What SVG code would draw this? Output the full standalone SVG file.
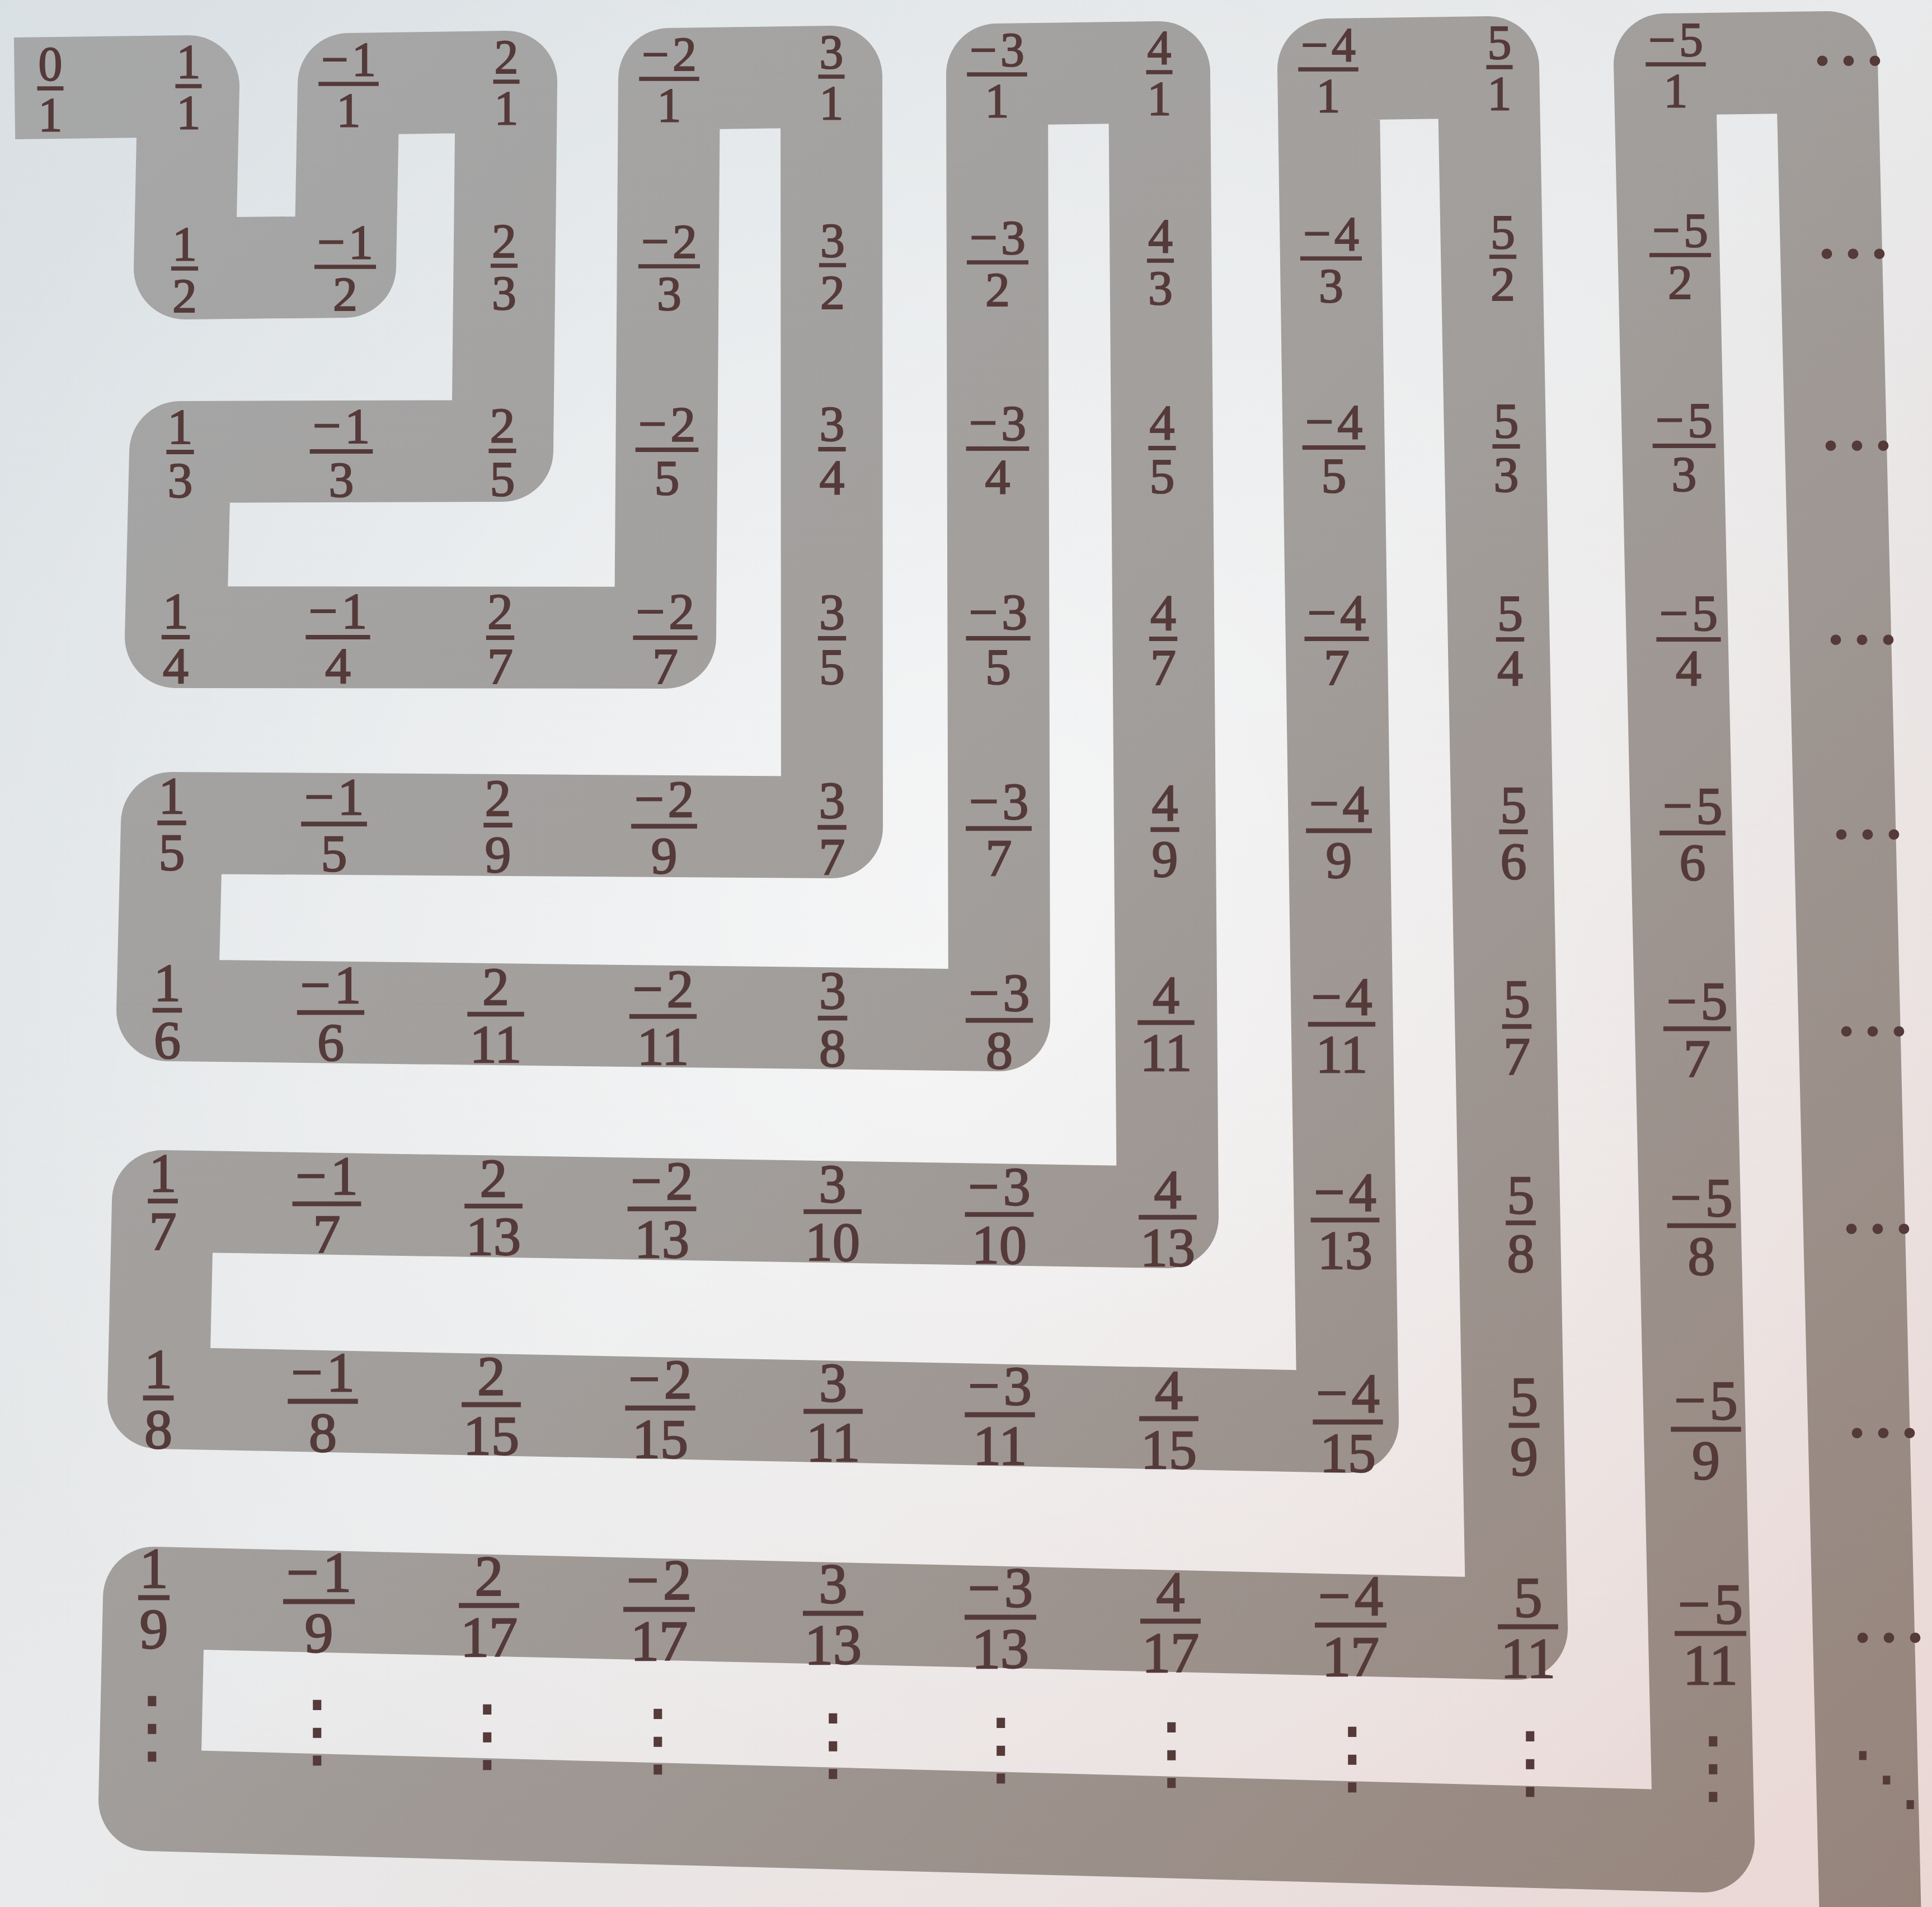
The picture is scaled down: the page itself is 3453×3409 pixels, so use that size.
<svg xmlns="http://www.w3.org/2000/svg" width="3453" height="3409" viewBox="0 0 3453 3409">
<defs>
<linearGradient id="bg" gradientUnits="userSpaceOnUse" x1="0" y1="0" x2="3453" y2="3409">
<stop offset="0" stop-color="#d9e0e4"/><stop offset="0.5" stop-color="#e9eaeb"/><stop offset="1" stop-color="#ead7d4"/>
</linearGradient>
<radialGradient id="glow" gradientUnits="userSpaceOnUse" cx="1700" cy="1600" r="2000">
<stop offset="0" stop-color="#ffffff" stop-opacity="0.55"/><stop offset="1" stop-color="#ffffff" stop-opacity="0"/>
</radialGradient>
<linearGradient id="bandGrad" gradientUnits="userSpaceOnUse" x1="0" y1="0" x2="3453" y2="3409">
<stop offset="0" stop-color="#a7a8a9"/><stop offset="0.5" stop-color="#a19d9a"/><stop offset="1" stop-color="#96847b"/>
</linearGradient>
</defs>
<style>
.band{fill:none;stroke:url(#bandGrad);stroke-width:182;stroke-linejoin:round;stroke-linecap:butt}
.fr text{font-family:"Liberation Serif","Times New Roman",serif;font-size:102px;fill:#553a3a;stroke:#553a3a;stroke-width:2.5;text-anchor:middle}
.fr line{stroke:#553a3a;stroke-width:9}
.dh{font-family:"Noto Sans CJK JP","DejaVu Sans",sans-serif;font-size:141px;fill:#553a3a;text-anchor:middle}
.dv{font-family:"Noto Sans CJK JP","DejaVu Sans",sans-serif;font-size:146px;fill:#553a3a;text-anchor:middle}
.dd{font-family:"Noto Sans CJK JP","DejaVu Sans",sans-serif;font-size:128px;fill:#553a3a;text-anchor:middle}
</style>
<rect width="3453" height="3409" fill="url(#bg)"/>
<rect width="3453" height="3409" fill="url(#glow)"/>
<g id="connectors">
<path class="band" d="M26,158 L337,154 L330,480 L617,477 L623,150 L905,146 L898,806 L322,808 L314,1139 L1189,1140 L1196,141 L1486,137 L1487,1479 L307,1471 L299,1806 L1786,1824 L1782,133 L2072,129 L2087,2176 L291,2147 L283,2499 L2409,2542 L2374,124 L2660,120 L2711,2912 L275,2856 L267,3218 L3045,3292 L2975,115 L3265,111 L3345,3520"/>
</g>
<!-- row 0 -->
<g id="f0-0" class="fr" transform="translate(90,158) scale(.84)"><text y="-18">0</text><line x1="-28" x2="28"/><text y="91">1</text></g>
<g id="f0-1" class="fr" transform="translate(337,154) scale(.84)"><text y="-18">1</text><line x1="-28" x2="28"/><text y="91">1</text></g>
<g id="f0-2" class="fr" transform="translate(623,150) scale(.84)"><text y="-18" textLength="116" lengthAdjust="spacing">−1</text><line x1="-64" x2="64"/><text y="91">1</text></g>
<g id="f0-3" class="fr" transform="translate(905,146) scale(.84)"><text y="-18">2</text><line x1="-28" x2="28"/><text y="91">1</text></g>
<g id="f0-4" class="fr" transform="translate(1196,141) scale(.84)"><text y="-18" textLength="116" lengthAdjust="spacing">−2</text><line x1="-64" x2="64"/><text y="91">1</text></g>
<g id="f0-5" class="fr" transform="translate(1486,137) scale(.84)"><text y="-18">3</text><line x1="-28" x2="28"/><text y="91">1</text></g>
<g id="f0-6" class="fr" transform="translate(1782,133) scale(.84)"><text y="-18" textLength="116" lengthAdjust="spacing">−3</text><line x1="-64" x2="64"/><text y="91">1</text></g>
<g id="f0-7" class="fr" transform="translate(2072,129) scale(.84)"><text y="-18">4</text><line x1="-28" x2="28"/><text y="91">1</text></g>
<g id="f0-8" class="fr" transform="translate(2374,124) scale(.84)"><text y="-18" textLength="116" lengthAdjust="spacing">−4</text><line x1="-64" x2="64"/><text y="91">1</text></g>
<g id="f0-9" class="fr" transform="translate(2680,120) scale(.84)"><text y="-18">5</text><line x1="-28" x2="28"/><text y="91">1</text></g>
<g id="f0-10" class="fr" transform="translate(2995,115) scale(.84)"><text y="-18" textLength="116" lengthAdjust="spacing">−5</text><line x1="-64" x2="64"/><text y="91">1</text></g>
<g id="h0"><text class="dh" x="3304" y="162">⋯</text></g>
<!-- row 1 -->
<g id="f1-1" class="fr" transform="translate(330,480) scale(.86)"><text y="-18">1</text><line x1="-28" x2="28"/><text y="91">2</text></g>
<g id="f1-2" class="fr" transform="translate(617,477) scale(.86)"><text y="-18" textLength="116" lengthAdjust="spacing">−1</text><line x1="-64" x2="64"/><text y="91">2</text></g>
<g id="f1-3" class="fr" transform="translate(901,475) scale(.86)"><text y="-18">2</text><line x1="-28" x2="28"/><text y="91">3</text></g>
<g id="f1-4" class="fr" transform="translate(1196,476) scale(.86)"><text y="-18" textLength="116" lengthAdjust="spacing">−2</text><line x1="-64" x2="64"/><text y="91">3</text></g>
<g id="f1-5" class="fr" transform="translate(1488,474) scale(.86)"><text y="-18">3</text><line x1="-28" x2="28"/><text y="91">2</text></g>
<g id="f1-6" class="fr" transform="translate(1783,469) scale(.86)"><text y="-18" textLength="116" lengthAdjust="spacing">−3</text><line x1="-64" x2="64"/><text y="91">2</text></g>
<g id="f1-7" class="fr" transform="translate(2074,466) scale(.86)"><text y="-18">4</text><line x1="-28" x2="28"/><text y="91">3</text></g>
<g id="f1-8" class="fr" transform="translate(2379,462) scale(.86)"><text y="-18" textLength="116" lengthAdjust="spacing">−4</text><line x1="-64" x2="64"/><text y="91">3</text></g>
<g id="f1-9" class="fr" transform="translate(2686,459) scale(.86)"><text y="-18">5</text><line x1="-28" x2="28"/><text y="91">2</text></g>
<g id="f1-10" class="fr" transform="translate(3003,456) scale(.86)"><text y="-18" textLength="116" lengthAdjust="spacing">−5</text><line x1="-64" x2="64"/><text y="91">2</text></g>
<g id="h1"><text class="dh" x="3312" y="507">⋯</text></g>
<!-- row 2 -->
<g id="f2-1" class="fr" transform="translate(322,808) scale(.88)"><text y="-18">1</text><line x1="-28" x2="28"/><text y="91">3</text></g>
<g id="f2-2" class="fr" transform="translate(610,807) scale(.88)"><text y="-18" textLength="116" lengthAdjust="spacing">−1</text><line x1="-64" x2="64"/><text y="91">3</text></g>
<g id="f2-3" class="fr" transform="translate(898,806) scale(.88)"><text y="-18">2</text><line x1="-28" x2="28"/><text y="91">5</text></g>
<g id="f2-4" class="fr" transform="translate(1192,804) scale(.88)"><text y="-18" textLength="116" lengthAdjust="spacing">−2</text><line x1="-64" x2="64"/><text y="91">5</text></g>
<g id="f2-5" class="fr" transform="translate(1487,803) scale(.88)"><text y="-18">3</text><line x1="-28" x2="28"/><text y="91">4</text></g>
<g id="f2-6" class="fr" transform="translate(1783,802) scale(.88)"><text y="-18" textLength="116" lengthAdjust="spacing">−3</text><line x1="-64" x2="64"/><text y="91">4</text></g>
<g id="f2-7" class="fr" transform="translate(2077,801) scale(.88)"><text y="-18">4</text><line x1="-28" x2="28"/><text y="91">5</text></g>
<g id="f2-8" class="fr" transform="translate(2384,800) scale(.88)"><text y="-18" textLength="116" lengthAdjust="spacing">−4</text><line x1="-64" x2="64"/><text y="91">5</text></g>
<g id="f2-9" class="fr" transform="translate(2692,798) scale(.88)"><text y="-18">5</text><line x1="-28" x2="28"/><text y="91">3</text></g>
<g id="f2-10" class="fr" transform="translate(3010,797) scale(.88)"><text y="-18" textLength="116" lengthAdjust="spacing">−5</text><line x1="-64" x2="64"/><text y="91">3</text></g>
<g id="h2"><text class="dh" x="3319" y="850">⋯</text></g>
<!-- row 3 -->
<g id="f3-1" class="fr" transform="translate(314,1139) scale(.90)"><text y="-18">1</text><line x1="-28" x2="28"/><text y="91">4</text></g>
<g id="f3-2" class="fr" transform="translate(604,1139) scale(.90)"><text y="-18" textLength="116" lengthAdjust="spacing">−1</text><line x1="-64" x2="64"/><text y="91">4</text></g>
<g id="f3-3" class="fr" transform="translate(894,1140) scale(.90)"><text y="-18">2</text><line x1="-28" x2="28"/><text y="91">7</text></g>
<g id="f3-4" class="fr" transform="translate(1189,1140) scale(.90)"><text y="-18" textLength="116" lengthAdjust="spacing">−2</text><line x1="-64" x2="64"/><text y="91">7</text></g>
<g id="f3-5" class="fr" transform="translate(1487,1141) scale(.90)"><text y="-18">3</text><line x1="-28" x2="28"/><text y="91">5</text></g>
<g id="f3-6" class="fr" transform="translate(1784,1141) scale(.90)"><text y="-18" textLength="116" lengthAdjust="spacing">−3</text><line x1="-64" x2="64"/><text y="91">5</text></g>
<g id="f3-7" class="fr" transform="translate(2079,1142) scale(.90)"><text y="-18">4</text><line x1="-28" x2="28"/><text y="91">7</text></g>
<g id="f3-8" class="fr" transform="translate(2389,1142) scale(.90)"><text y="-18" textLength="116" lengthAdjust="spacing">−4</text><line x1="-64" x2="64"/><text y="91">7</text></g>
<g id="f3-9" class="fr" transform="translate(2699,1143) scale(.90)"><text y="-18">5</text><line x1="-28" x2="28"/><text y="91">4</text></g>
<g id="f3-10" class="fr" transform="translate(3018,1143) scale(.90)"><text y="-18" textLength="116" lengthAdjust="spacing">−5</text><line x1="-64" x2="64"/><text y="91">4</text></g>
<g id="h3"><text class="dh" x="3328" y="1197">⋯</text></g>
<!-- row 4 -->
<g id="f4-1" class="fr" transform="translate(307,1471) scale(.92)"><text y="-18">1</text><line x1="-28" x2="28"/><text y="91">5</text></g>
<g id="f4-2" class="fr" transform="translate(597,1473) scale(.92)"><text y="-18" textLength="116" lengthAdjust="spacing">−1</text><line x1="-64" x2="64"/><text y="91">5</text></g>
<g id="f4-3" class="fr" transform="translate(890,1475) scale(.92)"><text y="-18">2</text><line x1="-28" x2="28"/><text y="91">9</text></g>
<g id="f4-4" class="fr" transform="translate(1187,1477) scale(.92)"><text y="-18" textLength="116" lengthAdjust="spacing">−2</text><line x1="-64" x2="64"/><text y="91">9</text></g>
<g id="f4-5" class="fr" transform="translate(1487,1479) scale(.92)"><text y="-18">3</text><line x1="-28" x2="28"/><text y="91">7</text></g>
<g id="f4-6" class="fr" transform="translate(1785,1481) scale(.92)"><text y="-18" textLength="116" lengthAdjust="spacing">−3</text><line x1="-64" x2="64"/><text y="91">7</text></g>
<g id="f4-7" class="fr" transform="translate(2082,1483) scale(.92)"><text y="-18">4</text><line x1="-28" x2="28"/><text y="91">9</text></g>
<g id="f4-8" class="fr" transform="translate(2393,1485) scale(.92)"><text y="-18" textLength="116" lengthAdjust="spacing">−4</text><line x1="-64" x2="64"/><text y="91">9</text></g>
<g id="f4-9" class="fr" transform="translate(2705,1487) scale(.92)"><text y="-18">5</text><line x1="-28" x2="28"/><text y="91">6</text></g>
<g id="f4-10" class="fr" transform="translate(3025,1489) scale(.92)"><text y="-18" textLength="116" lengthAdjust="spacing">−5</text><line x1="-64" x2="64"/><text y="91">6</text></g>
<g id="h4"><text class="dh" x="3338" y="1545">⋯</text></g>
<!-- row 5 -->
<g id="f5-1" class="fr" transform="translate(299,1806) scale(.94)"><text y="-18">1</text><line x1="-28" x2="28"/><text y="91">6</text></g>
<g id="f5-2" class="fr" transform="translate(591,1810) scale(.94)"><text y="-18" textLength="116" lengthAdjust="spacing">−1</text><line x1="-64" x2="64"/><text y="91">6</text></g>
<g id="f5-3" class="fr" transform="translate(886,1813) scale(.94)"><text y="-18">2</text><line x1="-54" x2="54"/><text y="91">11</text></g>
<g id="f5-4" class="fr" transform="translate(1185,1817) scale(.94)"><text y="-18" textLength="116" lengthAdjust="spacing">−2</text><line x1="-64" x2="64"/><text y="91">11</text></g>
<g id="f5-5" class="fr" transform="translate(1488,1820) scale(.94)"><text y="-18">3</text><line x1="-28" x2="28"/><text y="91">8</text></g>
<g id="f5-6" class="fr" transform="translate(1786,1824) scale(.94)"><text y="-18" textLength="116" lengthAdjust="spacing">−3</text><line x1="-64" x2="64"/><text y="91">8</text></g>
<g id="f5-7" class="fr" transform="translate(2084,1828) scale(.94)"><text y="-18">4</text><line x1="-54" x2="54"/><text y="91">11</text></g>
<g id="f5-8" class="fr" transform="translate(2398,1831) scale(.94)"><text y="-18" textLength="116" lengthAdjust="spacing">−4</text><line x1="-64" x2="64"/><text y="91">11</text></g>
<g id="f5-9" class="fr" transform="translate(2711,1835) scale(.94)"><text y="-18">5</text><line x1="-28" x2="28"/><text y="91">7</text></g>
<g id="f5-10" class="fr" transform="translate(3033,1839) scale(.94)"><text y="-18" textLength="116" lengthAdjust="spacing">−5</text><line x1="-64" x2="64"/><text y="91">7</text></g>
<g id="h5"><text class="dh" x="3347" y="1897">⋯</text></g>
<!-- row 6 -->
<g id="f6-1" class="fr" transform="translate(291,2147) scale(.96)"><text y="-18">1</text><line x1="-28" x2="28"/><text y="91">7</text></g>
<g id="f6-2" class="fr" transform="translate(584,2152) scale(.96)"><text y="-18" textLength="116" lengthAdjust="spacing">−1</text><line x1="-64" x2="64"/><text y="91">7</text></g>
<g id="f6-3" class="fr" transform="translate(882,2156) scale(.96)"><text y="-18">2</text><line x1="-54" x2="54"/><text y="91">13</text></g>
<g id="f6-4" class="fr" transform="translate(1183,2161) scale(.96)"><text y="-18" textLength="116" lengthAdjust="spacing">−2</text><line x1="-64" x2="64"/><text y="91">13</text></g>
<g id="f6-5" class="fr" transform="translate(1488,2166) scale(.96)"><text y="-18">3</text><line x1="-54" x2="54"/><text y="91">10</text></g>
<g id="f6-6" class="fr" transform="translate(1786,2171) scale(.96)"><text y="-18" textLength="116" lengthAdjust="spacing">−3</text><line x1="-64" x2="64"/><text y="91">10</text></g>
<g id="f6-7" class="fr" transform="translate(2087,2176) scale(.96)"><text y="-18">4</text><line x1="-54" x2="54"/><text y="91">13</text></g>
<g id="f6-8" class="fr" transform="translate(2404,2181) scale(.96)"><text y="-18" textLength="116" lengthAdjust="spacing">−4</text><line x1="-64" x2="64"/><text y="91">13</text></g>
<g id="f6-9" class="fr" transform="translate(2718,2186) scale(.96)"><text y="-18">5</text><line x1="-28" x2="28"/><text y="91">8</text></g>
<g id="f6-10" class="fr" transform="translate(3041,2191) scale(.96)"><text y="-18" textLength="116" lengthAdjust="spacing">−5</text><line x1="-64" x2="64"/><text y="91">8</text></g>
<g id="h6"><text class="dh" x="3356" y="2250">⋯</text></g>
<!-- row 7 -->
<g id="f7-1" class="fr" transform="translate(283,2499) scale(.98)"><text y="-18">1</text><line x1="-28" x2="28"/><text y="91">8</text></g>
<g id="f7-2" class="fr" transform="translate(577,2505) scale(.98)"><text y="-18" textLength="116" lengthAdjust="spacing">−1</text><line x1="-64" x2="64"/><text y="91">8</text></g>
<g id="f7-3" class="fr" transform="translate(878,2511) scale(.98)"><text y="-18">2</text><line x1="-54" x2="54"/><text y="91">15</text></g>
<g id="f7-4" class="fr" transform="translate(1180,2517) scale(.98)"><text y="-18" textLength="116" lengthAdjust="spacing">−2</text><line x1="-64" x2="64"/><text y="91">15</text></g>
<g id="f7-5" class="fr" transform="translate(1489,2523) scale(.98)"><text y="-18">3</text><line x1="-54" x2="54"/><text y="91">11</text></g>
<g id="f7-6" class="fr" transform="translate(1787,2529) scale(.98)"><text y="-18" textLength="116" lengthAdjust="spacing">−3</text><line x1="-64" x2="64"/><text y="91">11</text></g>
<g id="f7-7" class="fr" transform="translate(2089,2536) scale(.98)"><text y="-18">4</text><line x1="-54" x2="54"/><text y="91">15</text></g>
<g id="f7-8" class="fr" transform="translate(2409,2542) scale(.98)"><text y="-18" textLength="116" lengthAdjust="spacing">−4</text><line x1="-64" x2="64"/><text y="91">15</text></g>
<g id="f7-9" class="fr" transform="translate(2724,2548) scale(.98)"><text y="-18">5</text><line x1="-28" x2="28"/><text y="91">9</text></g>
<g id="f7-10" class="fr" transform="translate(3049,2555) scale(.98)"><text y="-18" textLength="116" lengthAdjust="spacing">−5</text><line x1="-64" x2="64"/><text y="91">9</text></g>
<g id="h7"><text class="dh" x="3366" y="2615">⋯</text></g>
<!-- row 8 -->
<g id="f8-1" class="fr" transform="translate(275,2856)"><text y="-18">1</text><line x1="-28" x2="28"/><text y="91">9</text></g>
<g id="f8-2" class="fr" transform="translate(570,2863)"><text y="-18" textLength="116" lengthAdjust="spacing">−1</text><line x1="-64" x2="64"/><text y="91">9</text></g>
<g id="f8-3" class="fr" transform="translate(874,2870)"><text y="-18">2</text><line x1="-54" x2="54"/><text y="91">17</text></g>
<g id="f8-4" class="fr" transform="translate(1178,2877)"><text y="-18" textLength="116" lengthAdjust="spacing">−2</text><line x1="-64" x2="64"/><text y="91">17</text></g>
<g id="f8-5" class="fr" transform="translate(1489,2884)"><text y="-18">3</text><line x1="-54" x2="54"/><text y="91">13</text></g>
<g id="f8-6" class="fr" transform="translate(1788,2891)"><text y="-18" textLength="116" lengthAdjust="spacing">−3</text><line x1="-64" x2="64"/><text y="91">13</text></g>
<g id="f8-7" class="fr" transform="translate(2092,2898)"><text y="-18">4</text><line x1="-54" x2="54"/><text y="91">17</text></g>
<g id="f8-8" class="fr" transform="translate(2414,2905)"><text y="-18" textLength="116" lengthAdjust="spacing">−4</text><line x1="-64" x2="64"/><text y="91">17</text></g>
<g id="f8-9" class="fr" transform="translate(2731,2908)"><text y="-18">5</text><line x1="-54" x2="54"/><text y="91">11</text></g>
<g id="f8-10" class="fr" transform="translate(3057,2920)"><text y="-18" textLength="116" lengthAdjust="spacing">−5</text><line x1="-64" x2="64"/><text y="91">11</text></g>
<g id="h8"><text class="dh" x="3376" y="2981">⋯</text></g>
<!-- row 9 vertical dots -->
<g id="v9">
<text class="dv" x="272" y="3136">⋮</text>
<text class="dv" x="567" y="3143">⋮</text>
<text class="dv" x="871" y="3151">⋮</text>
<text class="dv" x="1176" y="3159">⋮</text>
<text class="dv" x="1489" y="3167">⋮</text>
<text class="dv" x="1789" y="3175">⋮</text>
<text class="dv" x="2094" y="3183">⋮</text>
<text class="dv" x="2417" y="3191">⋮</text>
<text class="dv" x="2735" y="3199">⋮</text>
<text class="dv" x="3062" y="3208">⋮</text>
</g>
<g id="d9"><text class="dd" x="3372" y="3222">⋱</text></g>
</svg>
